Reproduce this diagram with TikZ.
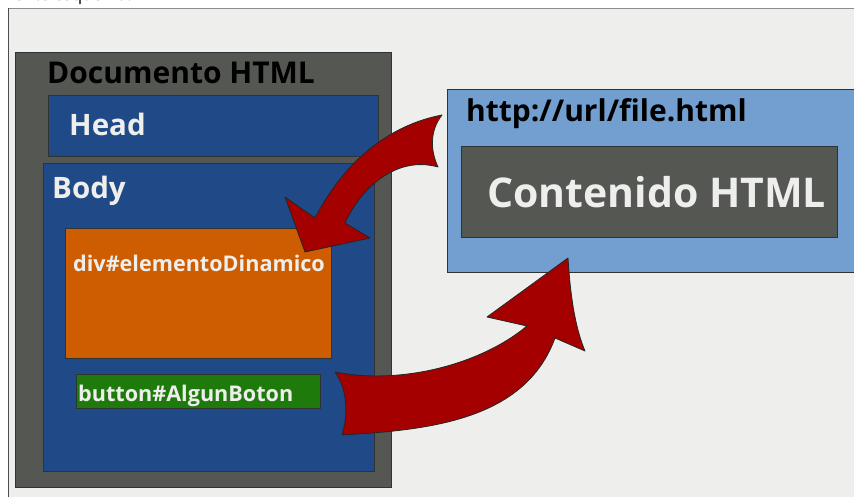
\documentclass[tikz,border=0pt]{standalone}
\usepackage{fontspec}
\setmainfont{Open Sans}
\usetikzlibrary{positioning}
\definecolor{fondo}{HTML}{EEEEEC}
\definecolor{gris}{HTML}{555753}
\definecolor{azul}{HTML}{204A87}
\definecolor{celeste}{HTML}{729FCF}
\definecolor{naranja}{HTML}{CE5C00}
\definecolor{verde}{HTML}{1F7A0C}
\definecolor{rojo}{HTML}{A40000}
\definecolor{borde}{HTML}{2E3436}

\tikzset{
  caja/.style={draw=borde, line width=0.8pt, anchor=north west, inner sep=0pt},
  rotulo/.style={anchor=base west, inner sep=0pt, font=\bfseries\fontsize{#1}{#1}\selectfont},
  flecha/.style={fill=rojo, draw=black!85, line width=0.8pt, line join=round}
}

\begin{document}
\begin{tikzpicture}[x=1pt,y=-1pt]
\useasboundingbox (0,0) rectangle (854,497);
\begin{scope}
  \clip (0,0) rectangle (854,8);
  \node[anchor=base west, inner sep=0pt, font=\fontsize{17}{17}\selectfont] (leyenda) at (14,1) {ente esquema:};
\end{scope}
\fill[fondo] (8,8) rectangle (854,497);
\draw[black!45] (8,497) -- (8,8) -- (854,8);
\draw[black!70] (8,497) -- (8,8);

\node[caja, fill=gris, minimum width=376pt, minimum height=435pt] (documento) at (15,52) {};
\node[rotulo=30, text=black] (doctitulo) at (47,84) {Documento HTML};
\node[caja, fill=azul, minimum width=330pt, minimum height=61pt] (head) at (48,95) {};
\node[rotulo=29.5, text=fondo] (headtitulo) at (69,136) {Head};
\node[caja, fill=azul, minimum width=331pt, minimum height=308pt] (body) at (43,163) {};
\node[rotulo=29.5, text=fondo] (bodytitulo) at (52,199) {Body};
\node[caja, fill=naranja, minimum width=266pt, minimum height=130pt] (div) at (65,228) {};
\node[rotulo=21.6, text=fondo] (divtitulo) at (73,271) {div\#elementoDinamico};
\node[caja, fill=verde, minimum width=244pt, minimum height=34pt] (boton) at (76,374) {};
\node[rotulo=21.6, text=fondo] (botontitulo) at (78,401) {button\#AlgunBoton};

\node[caja, fill=celeste, minimum width=420pt, minimum height=183pt] (archivo) at (447,89) {};
\node[rotulo=30, text=black] (url) at (466,122) {http://url/file.html};
\node[caja, fill=gris, minimum width=376pt, minimum height=91pt] (contenido) at (461,146) {};
\node[rotulo=41, text=fondo] (contenidotitulo) at (487,208) {Contenido HTML};

\draw[flecha] (442,115) .. controls (430,130) and (430,150) .. (438,167)
  .. controls (395,155) and (360,190) .. (345,223) -- (370,238) -- (305,252)
  -- (285,197) -- (315,218) .. controls (345,160) and (390,125) .. (442,115) -- cycle;
\draw[flecha] (335,372) .. controls (400,385) and (480,365) .. (527,326)
  -- (487,317) -- (568,258) .. controls (570,290) and (574,325) .. (585,351) -- (555,338)
  .. controls (525,420) and (430,430) .. (342,435)
  .. controls (348,415) and (348,390) .. (335,372) -- cycle;
\end{tikzpicture}
\end{document}
